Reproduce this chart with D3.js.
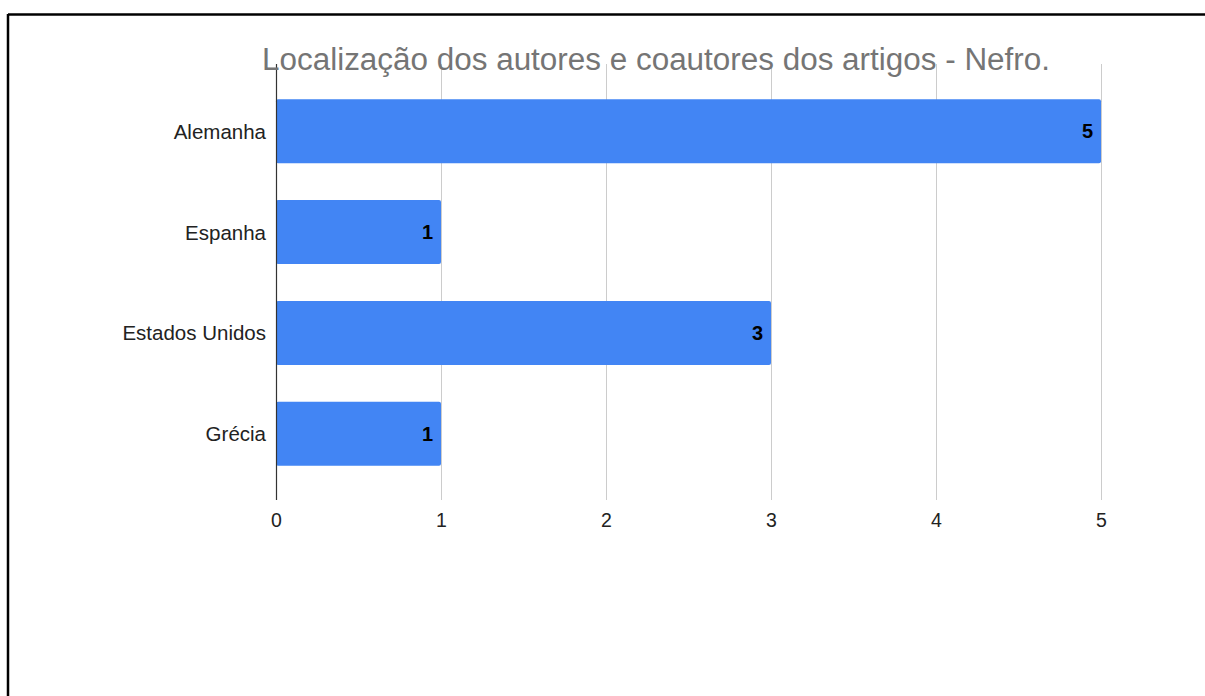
<!DOCTYPE html>
<html>
<head>
<meta charset="utf-8">
<script src="https://cdn.jsdelivr.net/npm/d3@7"></script>
<style>
html,body{margin:0;padding:0;background:#fff;}
svg{display:block;}
text{font-family:"Liberation Sans",Arial,sans-serif;}
</style>
</head>
<body>
<svg id="chart" width="1205" height="696"></svg>
<script>
const categories = ["Alemanha", "Espanha", "Estados Unidos", "Grécia"];
const values = [5, 1, 3, 1];
const xTicks = [0, 1, 2, 3, 4, 5];
const title = "Localização dos autores e coautores dos artigos - Nefro.";

const svg = d3.select("#chart");

// frame border (top and left)
svg.append("line").attr("x1", 8).attr("x2", 1205).attr("y1", 14.5).attr("y2", 14.5)
  .attr("stroke", "#000").attr("stroke-width", 2.5);
svg.append("line").attr("x1", 8).attr("x2", 8).attr("y1", 14).attr("y2", 696)
  .attr("stroke", "#000").attr("stroke-width", 2.5);

const x = d3.scaleLinear().domain([0, 5]).range([276, 1101]);
const y = d3.scaleBand().domain(categories).range([81, 484]).paddingInner(0.365).paddingOuter(0.18);

const gridTop = 64, gridBottom = 500;

// gridlines
svg.append("g").selectAll("line").data(xTicks.filter(d => d !== 0)).join("line")
  .attr("x1", d => x(d) + 0.5).attr("x2", d => x(d) + 0.5)
  .attr("y1", gridTop).attr("y2", gridBottom)
  .attr("stroke", "#cccccc").attr("stroke-width", 1);

// x tick labels
svg.append("g").selectAll("text").data(xTicks).join("text")
  .attr("x", d => x(d) + 0.5).attr("y", 527)
  .attr("text-anchor", "middle")
  .attr("font-size", 19.5).attr("fill", "#222")
  .text(d => d);

// bars
svg.append("g").selectAll("rect").data(values).join("rect")
  .attr("x", x(0))
  .attr("y", (d, i) => y(categories[i]))
  .attr("width", d => x(d) - x(0))
  .attr("height", y.bandwidth())
  .attr("rx", 2).attr("ry", 2)
  .attr("fill", "#4285F4");

// value labels
svg.append("g").selectAll("text").data(values).join("text")
  .attr("x", d => x(d) - 8)
  .attr("y", (d, i) => y(categories[i]) + y.bandwidth() / 2 + 7)
  .attr("text-anchor", "end")
  .attr("font-size", 20).attr("font-weight", "bold").attr("fill", "#000")
  .text(d => d);

// category labels
svg.append("g").selectAll("text").data(categories).join("text")
  .attr("x", 266)
  .attr("y", d => y(d) + y.bandwidth() / 2 + 7.5)
  .attr("text-anchor", "end")
  .attr("font-size", 20.5).attr("fill", "#222")
  .text(d => d);

// zero axis
svg.append("line").attr("x1", x(0) + 0.5).attr("x2", x(0) + 0.5)
  .attr("y1", gridTop).attr("y2", gridBottom)
  .attr("stroke", "#333").attr("stroke-width", 1.2);

// title
svg.append("text").attr("x", 656).attr("y", 70)
  .attr("text-anchor", "middle")
  .attr("font-size", 31).attr("fill", "#757575")
  .attr("textLength", 788).attr("lengthAdjust", "spacingAndGlyphs")
  .text(title);
</script>
</body>
</html>
